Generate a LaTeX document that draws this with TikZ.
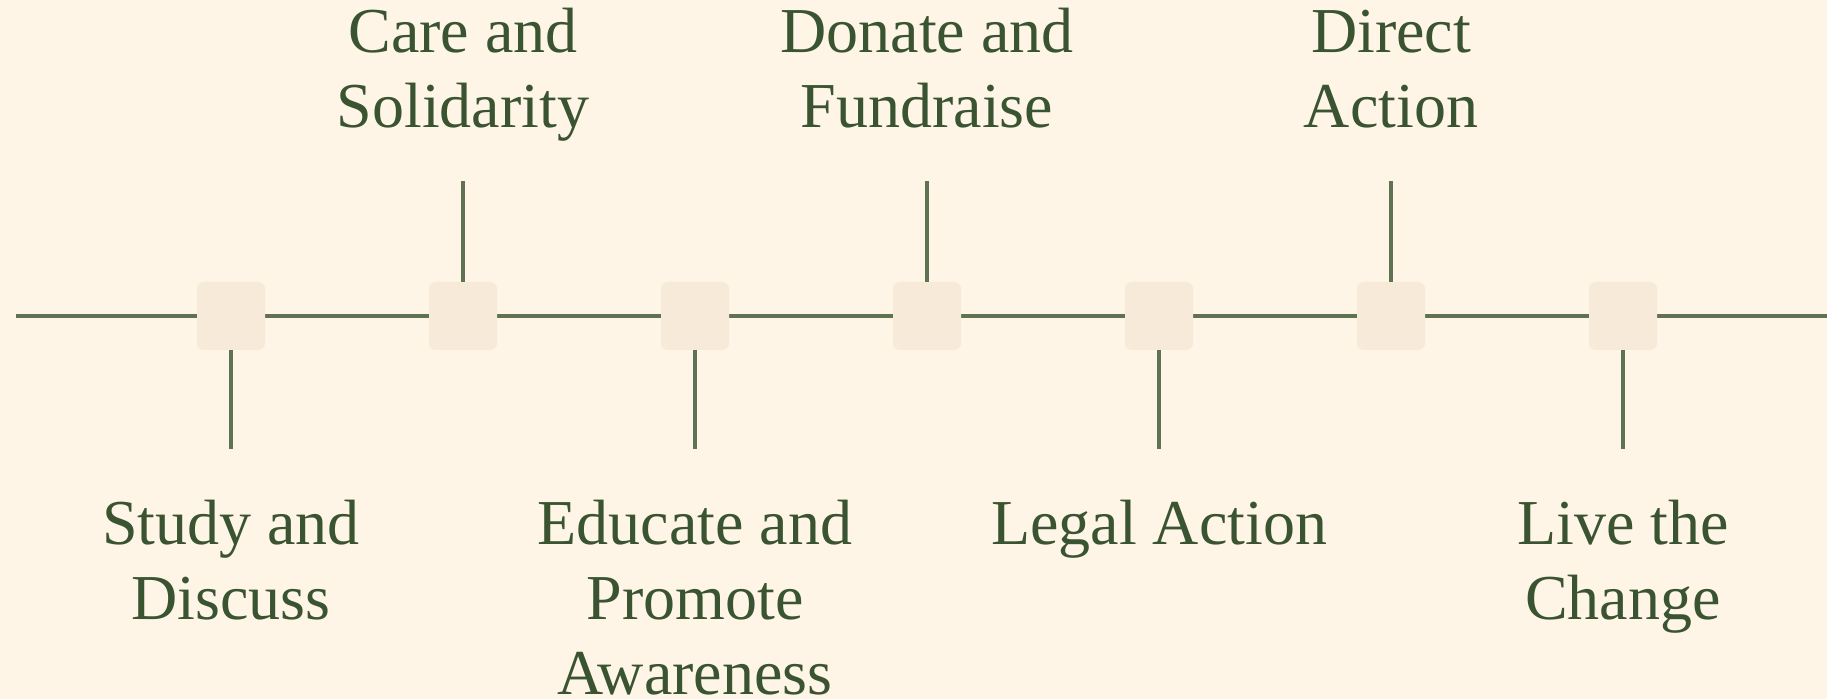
\documentclass[tikz,border=0pt]{standalone}
\usepackage{fontspec}
\setmainfont{Liberation Serif}
\usepackage{xcolor}
\usepackage{tikz}
\definecolor{paper}{HTML}{FEF5E7}
\definecolor{boxfill}{HTML}{F7EAD8}
\definecolor{rule}{HTML}{5F7251}
\definecolor{ink}{HTML}{3A5431}
\tikzset{
	stage/.style={rectangle,fill=boxfill,rounded corners=3.5pt,minimum size=34pt,inner sep=0pt},
	label text/.style={align=center,text=ink,inner sep=0pt,anchor=base,
		font=\fontsize{32}{37.5}\selectfont},
	stem/.style={draw=rule,line width=2pt}
}

\begin{document}
\begin{tikzpicture}[x=0.5pt,y=-0.5pt]
	    \fill[paper] (0,0) rectangle (1827,699);
	    \useasboundingbox (0,0) rectangle (1827,699);
	    \coordinate (start) at (16,316);
	    \coordinate (end) at (1827,316);
	    \draw[stem] (start) -- (end);
	    % stages along the line
	    \node [stage] (s1) at (231,316) {};
	    \node [stage] (s2) at (463,316) {};
	    \node [stage] (s3) at (695,316) {};
	    \node [stage] (s4) at (927,316) {};
	    \node [stage] (s5) at (1159,316) {};
	    \node [stage] (s6) at (1391,316) {};
	    \node [stage] (s7) at (1623,316) {};
	    % ends of the stems
	    \coordinate (c1) at (231,449);
	    \coordinate (c2) at (463,181);
	    \coordinate (c3) at (695,449);
	    \coordinate (c4) at (927,181);
	    \coordinate (c5) at (1159,449);
	    \coordinate (c6) at (1391,181);
	    \coordinate (c7) at (1623,449);
	    \draw[stem] (s1.south) -- (c1);
	    \draw[stem] (s2.north) -- (c2);
	    \draw[stem] (s3.south) -- (c3);
	    \draw[stem] (s4.north) -- (c4);
	    \draw[stem] (s5.south) -- (c5);
	    \draw[stem] (s6.north) -- (c6);
	    \draw[stem] (s7.south) -- (c7);
	    % labels (placed by the baseline of their last line)
	    \node [label text] (t1) at (231,620) {Study and\\Discuss};
	    \node [label text] (t2) at (463,128) {Care and\\Solidarity};
	    \node [label text] (t3) at (695,695) {Educate and\\Promote\\Awareness};
	    \node [label text] (t4) at (927,128) {Donate and\\Fundraise};
	    \node [label text] (t5) at (1159,545) {Legal Action};
	    \node [label text] (t6) at (1391,128) {Direct\\Action};
	    \node [label text] (t7) at (1623,620) {Live the\\Change};
	  \end{tikzpicture}
\end{document}
